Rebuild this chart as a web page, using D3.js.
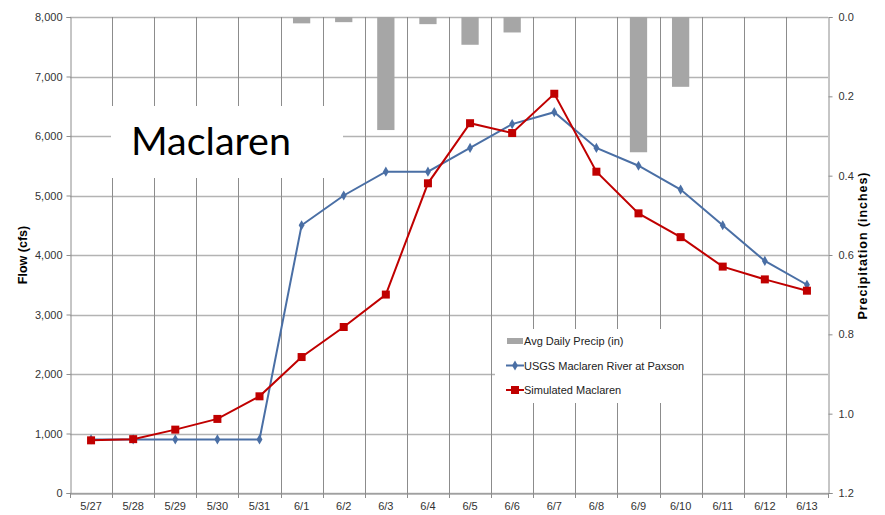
<!DOCTYPE html>
<html>
<head>
<meta charset="utf-8">
<script src="https://cdn.jsdelivr.net/npm/d3@7/dist/d3.min.js"></script>
<style>
  html, body { margin: 0; padding: 0; background: #fff; }
  svg { display: block; }
  .tick text { font-family: "Liberation Sans", Arial, sans-serif; font-size: 11px; fill: #333; }
</style>
</head>
<body>
<svg id="chart" width="885" height="515"></svg>
<script>
// Daily dates on the category axis
const dates = ["5/27","5/28","5/29","5/30","5/31","6/1","6/2","6/3","6/4","6/5",
               "6/6","6/7","6/8","6/9","6/10","6/11","6/12","6/13"];
// Average daily precipitation (in)
const precip = [0, 0, 0, 0, 0, 0.016, 0.013, 0.285, 0.018, 0.070,
                0.039, 0, 0, 0.341, 0.176, 0, 0, 0];
// USGS Maclaren River at Paxson (cfs)
const observed = [900, 900, 900, 900, 900, 4500, 5000, 5400, 5400, 5800,
                  6200, 6400, 5800, 5500, 5100, 4500, 3900, 3500];
// Simulated Maclaren (cfs)
const simulated = [885, 905, 1065, 1245, 1625, 2285, 2790, 3335, 5205, 6215,
                   6050, 6710, 5400, 4700, 4300, 3805, 3590, 3400];
const flowTicks = [0, 1000, 2000, 3000, 4000, 5000, 6000, 7000, 8000];
const precipTicks = [0, 0.2, 0.4, 0.6, 0.8, 1.0, 1.2];

const svg = d3.select("#chart");
const m = { left: 70, right: 57, top: 17, bottom: 22 };
const W = 885, H = 515;
const x0 = m.left, x1 = W - m.right, y0 = H - m.bottom, y1 = m.top;

const x = d3.scaleBand().domain(dates).range([x0, x1]).paddingInner(0).paddingOuter(0);
const yFlow = d3.scaleLinear().domain([0, 8000]).range([y0, y1]);
const yPrecip = d3.scaleLinear().domain([0, 1.2]).range([y1, y0]);

const blue = "#4a6fa5", red = "#c00000", barGrey = "#a6a6a6";

// Horizontal gridlines
svg.append("g").selectAll("line").data(flowTicks).join("line")
  .attr("x1", x0).attr("x2", x1)
  .attr("y1", d => Math.round(yFlow(d)) + 0.5).attr("y2", d => Math.round(yFlow(d)) + 0.5)
  .attr("stroke", "#b3b3b3").attr("stroke-width", 1.3);

// Vertical gridlines at category boundaries
const bounds = dates.map(d => x(d)).slice(1);
svg.append("g").selectAll("line").data(bounds).join("line")
  .attr("x1", d => Math.round(d) + 0.5).attr("x2", d => Math.round(d) + 0.5)
  .attr("y1", y1).attr("y2", y0)
  .attr("stroke", "#8c8c8c").attr("stroke-width", 1);

// Title box
svg.append("rect").attr("x", 111).attr("y", 106).attr("width", 232).attr("height", 72).attr("fill", "#fff");
svg.append("text").attr("x", 131).attr("y", 155)
  .attr("font-family", "Lato, 'Open Sans', sans-serif").attr("font-size", 39.5)
  .attr("fill", "#000").text("Maclaren");

// Precipitation bars hanging from the top
const barW = x.bandwidth() * 0.41;
svg.append("g").selectAll("rect").data(dates.map((d, i) => ({ d, v: precip[i] })).filter(o => o.v > 0))
  .join("rect")
  .attr("x", o => x(o.d) + x.bandwidth() / 2 - barW / 2)
  .attr("y", yPrecip(0))
  .attr("width", barW)
  .attr("height", o => yPrecip(o.v) - yPrecip(0))
  .attr("fill", barGrey);

// Flow lines
const line = d3.line().x((v, i) => x(dates[i]) + x.bandwidth() / 2).y(v => yFlow(v));
svg.append("path").datum(observed).attr("d", line)
  .attr("fill", "none").attr("stroke", blue).attr("stroke-width", 2);
svg.append("path").datum(simulated).attr("d", line)
  .attr("fill", "none").attr("stroke", red).attr("stroke-width", 2);

const diamond = d3.symbol().type(d3.symbolDiamond).size(30);
svg.append("g").selectAll("path").data(observed).join("path")
  .attr("d", diamond)
  .attr("transform", (v, i) => `translate(${x(dates[i]) + x.bandwidth() / 2},${yFlow(v)})`)
  .attr("fill", blue);
svg.append("g").selectAll("rect").data(simulated).join("rect")
  .attr("x", (v, i) => x(dates[i]) + x.bandwidth() / 2 - 4)
  .attr("y", v => yFlow(v) - 4)
  .attr("width", 8).attr("height", 8)
  .attr("fill", red);

// Axes
const axisColor = "#8c8c8c";
const gL = svg.append("g").attr("transform", `translate(${x0 + 0.5},0)`)
  .call(d3.axisLeft(yFlow).tickValues(flowTicks).tickFormat(d3.format(",")).tickSize(4).tickPadding(4));
const gR = svg.append("g").attr("transform", `translate(${x1 + 0.5},0)`)
  .call(d3.axisRight(yPrecip).tickValues(precipTicks).tickFormat(d3.format(".1f")).tickSize(4).tickPadding(6));
const gB = svg.append("g").attr("transform", `translate(0,${y0 + 0.5})`)
  .call(d3.axisBottom(x).tickSize(0).tickPadding(9));
// category boundary ticks on the bottom axis
svg.append("g").selectAll("line").data([x0, ...bounds, x1]).join("line")
  .attr("x1", d => Math.round(d) + 0.5).attr("x2", d => Math.round(d) + 0.5)
  .attr("y1", y0).attr("y2", y0 + 5).attr("stroke", axisColor);
[gL, gR, gB].forEach(g => {
  g.select(".domain").attr("stroke", axisColor);
  g.selectAll(".tick line").attr("stroke", axisColor);
});

// Axis titles
svg.append("text").attr("transform", `translate(27,${(y0 + y1) / 2}) rotate(-90)`)
  .attr("text-anchor", "middle").attr("font-family", "'Liberation Sans', Arial, sans-serif")
  .attr("font-size", 12.5).attr("font-weight", "bold").attr("fill", "#000").text("Flow (cfs)");
svg.append("text").attr("transform", `translate(867,246) rotate(-90)`)
  .attr("text-anchor", "middle").attr("font-family", "'Liberation Sans', Arial, sans-serif")
  .attr("font-size", 12.5).attr("font-weight", "bold").attr("fill", "#000")
  .attr("textLength", 147).attr("lengthAdjust", "spacing")
  .text("Precipitation (inches)");

// Legend
const lg = svg.append("g").attr("transform", "translate(495,329)");
lg.append("rect").attr("width", 207).attr("height", 74).attr("fill", "#fff");
const items = [
  { name: "Avg Daily Precip (in)", kind: "bar" },
  { name: "USGS Maclaren River at Paxson", kind: "obs" },
  { name: "Simulated Maclaren", kind: "sim" }
];
items.forEach((it, i) => {
  const cy = 12 + i * 24.5;
  const g = lg.append("g").attr("transform", `translate(0,${cy})`);
  if (it.kind === "bar") {
    g.append("rect").attr("x", 12).attr("y", -3).attr("width", 16).attr("height", 6).attr("fill", barGrey);
  } else if (it.kind === "obs") {
    g.append("line").attr("x1", 11).attr("x2", 29).attr("stroke", blue).attr("stroke-width", 2);
    g.append("path").attr("d", diamond).attr("transform", "translate(20,0)").attr("fill", blue);
  } else {
    g.append("line").attr("x1", 11).attr("x2", 29).attr("stroke", red).attr("stroke-width", 2);
    g.append("rect").attr("x", 16).attr("y", -4).attr("width", 8).attr("height", 8).attr("fill", red);
  }
  g.append("text").attr("x", 29).attr("y", 4)
    .attr("font-family", "'Liberation Sans', Arial, sans-serif").attr("font-size", 11)
    .attr("fill", "#222").text(it.name);
});
</script>
</body>
</html>
